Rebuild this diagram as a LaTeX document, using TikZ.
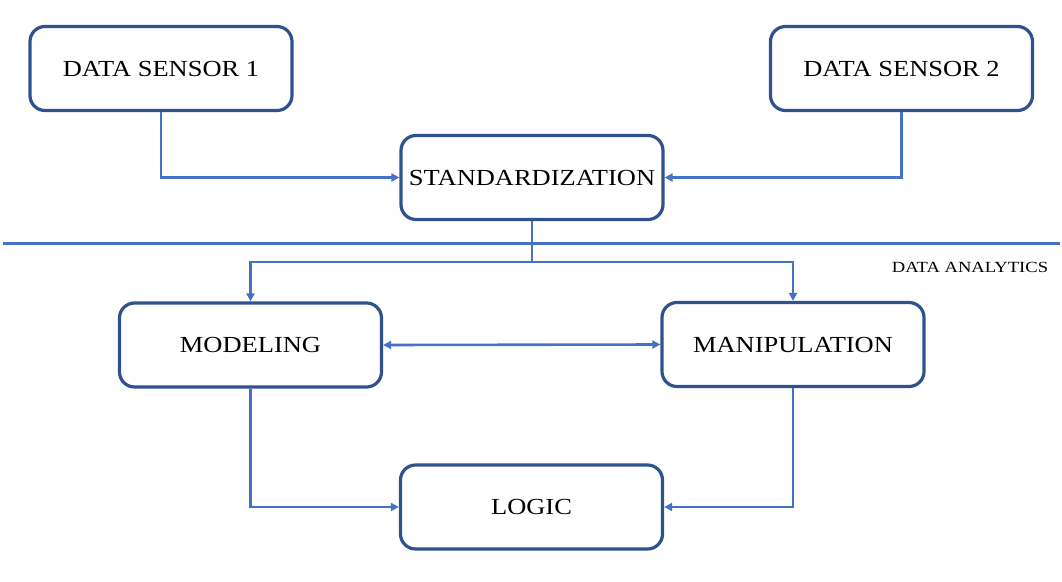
\documentclass[tikz,border=0pt]{standalone}
\usepackage{fontspec}
\setmainfont{Liberation Serif}
\usepackage{graphicx}
\usepackage{tikz}
\usetikzlibrary{positioning,arrows.meta,calc}
\definecolor{boxedge}{RGB}{47,82,143}
\definecolor{flowln}{RGB}{68,114,196}
\newcommand{\wtxt}[2][1.2]{\scalebox{#1}[1]{#2}}

\begin{document}
\begin{tikzpicture}[x=1pt,y=1pt,>={Triangle[length=8pt,width=8pt]},
  blk/.style={draw=boxedge,line width=3.2pt,rounded corners=15pt,minimum width=262pt,
    minimum height=84pt,inner sep=0pt,align=center,font=\fontsize{23}{27}\selectfont},
  lbl/.style={font=\fontsize{15.5}{18}\selectfont},
  flow/.style={draw=flowln,line width=2.6pt}]
  \useasboundingbox (0,0) rectangle (1062,-581);
  \node[blk] (sens1) at (161,-68.5)  {\wtxt[1.15]{DATA SENSOR 1}};
  \node[blk] (sens2) at (901.5,-68.5) {\wtxt[1.15]{DATA SENSOR 2}};
  \node[blk] (std)   at (532,-177.5)  {\wtxt[1.15]{STANDARDIZATION}};
  \node[blk] (model) at (250.5,-345)  {\wtxt[1.15]{MODELING}};
  \node[blk] (manip) at (793,-344.5)  {\wtxt[1.15]{MANIPULATION}};
  \node[blk] (logic) at (531.5,-507)  {\wtxt[1.15]{LOGIC}};
  \coordinate (sepl) at (3,-243);
  \coordinate (sepr) at (1060,-243);
  \draw[flow,line width=3pt] (sepl) -- (sepr);
  \node[lbl] (dalbl) at (970,-267) {\wtxt{DATA ANALYTICS}};
  \draw[flow,->] (sens1.south) |- (std.west);
  \draw[flow,->] (sens2.south) |- (std.east);
  \coordinate (split) at ($(std.south)+(0,-41)$);
  \draw[flow] (std.south) -- (split);
  \draw[flow,->] (split) -| (model.north);
  \draw[flow,->] (split) -| (manip.north);
  \draw[flow,<->] (model.east) -- (manip.west);
  \draw[flow,->] (model.south) |- (logic.west);
  \draw[flow,->] (manip.south) |- (logic.east);
\end{tikzpicture}
\end{document}
